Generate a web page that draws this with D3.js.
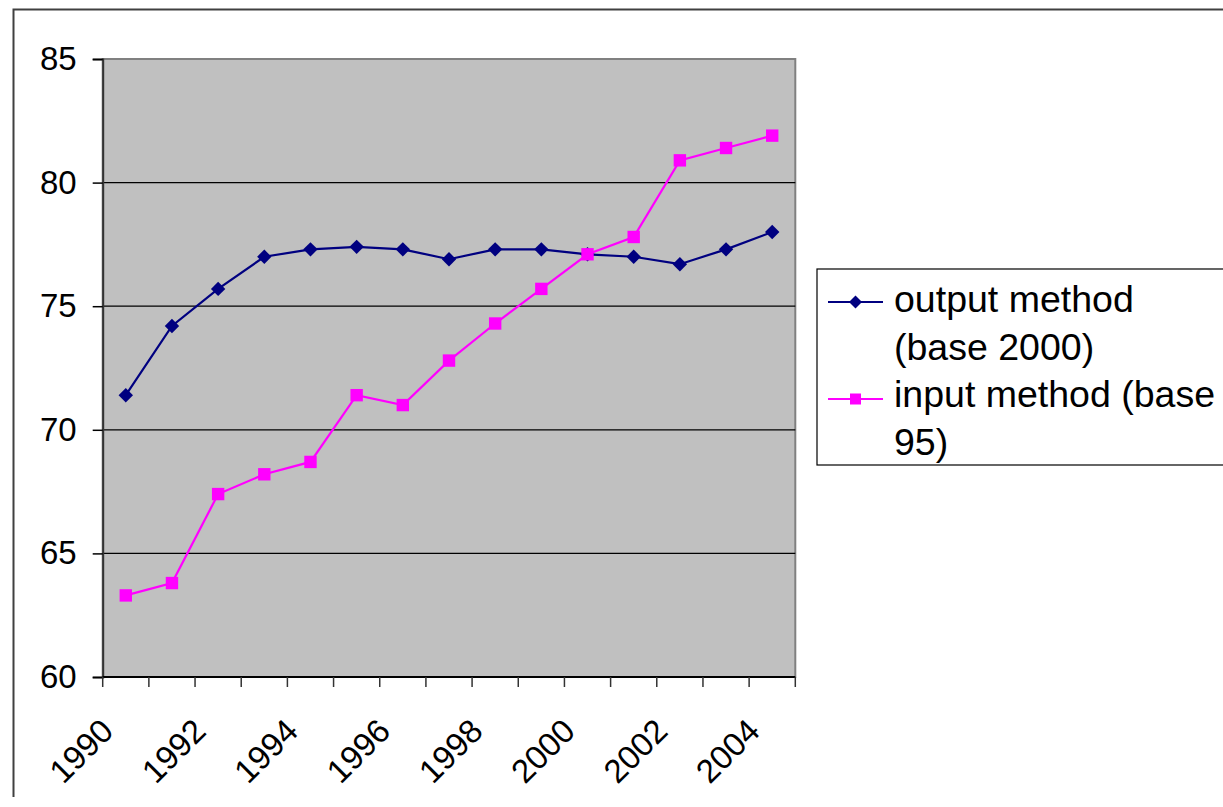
<!DOCTYPE html>
<html>
<head>
<meta charset="utf-8">
<script src="https://cdn.jsdelivr.net/npm/d3@7"></script>
<style>
  html, body { margin: 0; padding: 0; background: #fff; }
  svg { display: block; font-family: "Liberation Sans", Arial, sans-serif; }
</style>
</head>
<body>
<svg id="chart" width="1223" height="807"></svg>
<script>
// Years on the category axis
const years = [1990, 1991, 1992, 1993, 1994, 1995, 1996, 1997, 1998, 1999, 2000, 2001, 2002, 2003, 2004];
// Output method index (base 2000)
const outputMethod = [71.4, 74.2, 75.7, 77.0, 77.3, 77.4, 77.3, 76.9, 77.3, 77.3, 77.1, 77.0, 76.7, 77.3, 78.0];
// Input method index (base 95)
const inputMethod = [63.3, 63.8, 67.4, 68.2, 68.7, 71.4, 71.0, 72.8, 74.3, 75.7, 77.1, 77.8, 80.9, 81.4, 81.9];
// Value axis ticks
const yTicks = [60, 65, 70, 75, 80, 85];
// Year labels shown under the axis
const xLabels = [1990, 1992, 1994, 1996, 1998, 2000, 2002, 2004];
// Legend entries (text wrapped over two lines)
const seriesNames = [["output method", "(base 2000)"], ["input method (base", "95)"]];

const svg = d3.select("#chart");

const plot = { left: 102.7, top: 59, right: 795.3, bottom: 677 };

const x = d3.scaleBand().domain(years).range([plot.left, plot.right]).padding(0);
const y = d3.scaleLinear().domain([60, 85]).range([plot.bottom, plot.top]);
const cx = d => x(d) + x.bandwidth() / 2;

// Outer chart-area frame (left and top edges visible)
svg.append("path")
  .attr("d", "M13.5,797 L13.5,9.5 L1223,9.5")
  .attr("fill", "none").attr("stroke", "#404040").attr("stroke-width", 2);

// Plot area background
svg.append("rect")
  .attr("x", plot.left).attr("y", plot.top)
  .attr("width", plot.right - plot.left).attr("height", plot.bottom - plot.top)
  .attr("fill", "#c0c0c0").attr("stroke", "#808080").attr("stroke-width", 2);

// Horizontal gridlines
svg.append("g").selectAll("line")
  .data(yTicks.filter(t => t > 60 && t < 85))
  .join("line")
  .attr("x1", plot.left).attr("x2", plot.right)
  .attr("y1", d => y(d)).attr("y2", d => y(d))
  .attr("stroke", "#000").attr("stroke-width", 1.2);

// Value axis
const yAxis = d3.axisLeft(y).tickValues(yTicks).tickSize(10).tickPadding(16).tickFormat(d3.format("d"));
const gy = svg.append("g").attr("transform", `translate(${plot.left},0)`).call(yAxis);
gy.select(".domain").attr("stroke", "#333").attr("stroke-width", 2);
gy.selectAll(".tick line").attr("stroke", "#000").attr("stroke-width", 1.5);
gy.selectAll(".tick text").attr("font-size", 33).attr("fill", "#000")
  .attr("font-family", "Liberation Sans, Arial, sans-serif");

// Category axis: ticks on band boundaries
const bounds = years.map(d => x(d)).concat([plot.right]);
const gx = svg.append("g");
gx.append("line")
  .attr("x1", plot.left).attr("x2", plot.right)
  .attr("y1", plot.bottom).attr("y2", plot.bottom)
  .attr("stroke", "#000").attr("stroke-width", 2);
gx.selectAll("line.tk").data(bounds).join("line").attr("class", "tk")
  .attr("x1", d => d).attr("x2", d => d)
  .attr("y1", plot.bottom).attr("y2", plot.bottom + 10)
  .attr("stroke", "#333").attr("stroke-width", 1.5);
gx.selectAll("text").data(xLabels).join("text")
  .attr("transform", d => `translate(${cx(d) - 10.5},733) rotate(-45)`)
  .attr("text-anchor", "end")
  .attr("font-size", 33).attr("fill", "#000")
  .text(d => d);

// Series
const series = [
  { values: outputMethod, color: "#000080", shape: "diamond" },
  { values: inputMethod, color: "#ff00ff", shape: "square" }
];
const line = d3.line().x((d, i) => cx(years[i])).y(d => y(d));

function marker(sel, shape, color, r) {
  if (shape === "diamond") {
    sel.append("path").attr("d", `M0,${-r - 1} L${r + 1},0 L0,${r + 1} L${-r - 1},0 Z`).attr("fill", color);
  } else {
    sel.append("rect").attr("x", -r).attr("y", -r).attr("width", 2 * r).attr("height", 2 * r).attr("fill", color);
  }
}

series.forEach(s => {
  svg.append("path").datum(s.values)
    .attr("d", line).attr("fill", "none")
    .attr("stroke", s.color).attr("stroke-width", 2.2);
  svg.append("g").selectAll("g").data(s.values).join("g")
    .attr("transform", (d, i) => `translate(${cx(years[i])},${y(d)})`)
    .each(function () { marker(d3.select(this), s.shape, s.color, 6.2); });
});

// Legend
const lg = svg.append("g");
lg.append("rect").attr("x", 817).attr("y", 269).attr("width", 420).attr("height", 196)
  .attr("fill", "#fff").attr("stroke", "#000").attr("stroke-width", 1.2);
const baselines = [[312, 360], [407, 455]];
const symbolY = [302, 399];
series.forEach((s, i) => {
  const my = symbolY[i];
  lg.append("line").attr("x1", 828).attr("x2", 883).attr("y1", my).attr("y2", my)
    .attr("stroke", s.color).attr("stroke-width", 2);
  const m = lg.append("g").attr("transform", `translate(855.5,${my})`);
  marker(m, s.shape, s.color, 5.5);
  seriesNames[i].forEach((t, j) => {
    lg.append("text").attr("x", 894).attr("y", baselines[i][j])
      .attr("font-size", 37.5).attr("fill", "#000").text(t);
  });
});
</script>
</body>
</html>
